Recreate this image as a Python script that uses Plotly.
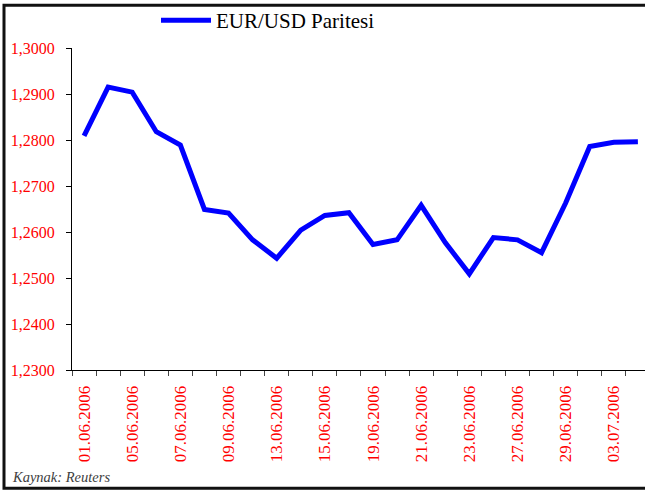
import plotly.graph_objects as go

dates = ["01.06.2006", "02.06.2006", "05.06.2006", "06.06.2006", "07.06.2006", "08.06.2006",
         "09.06.2006", "12.06.2006", "13.06.2006", "14.06.2006", "15.06.2006", "16.06.2006",
         "19.06.2006", "20.06.2006", "21.06.2006", "22.06.2006", "23.06.2006", "26.06.2006",
         "27.06.2006", "28.06.2006", "29.06.2006", "30.06.2006", "03.07.2006", "04.07.2006"]
eurusd = [1.2809, 1.2915, 1.2904, 1.2818, 1.2789, 1.2649, 1.2641, 1.2583, 1.2543, 1.2604,
          1.2636, 1.2642, 1.2573, 1.2583, 1.2658, 1.2577, 1.2509, 1.2588, 1.2583, 1.2555,
          1.2663, 1.2786, 1.2795, 1.2796]
series_name = "EUR/USD Paritesi"
source_text = "Kaynak: Reuters"

SERIF = "Liberation Serif, Times New Roman, serif"

W, H = 645, 493
L, R, T, B = 72, 0, 46, 123
PW, PH = W - L - R, H - T - B

def px_x(p):
    return (p - L) / PW

def px_y(p):
    return (H - B - p) / PH

xs = list(range(len(dates)))

fig = go.Figure()
fig.add_trace(go.Scatter(
    x=xs, y=eurusd, mode="lines", name=series_name,
    line=dict(color="#0000FF", width=5),
    showlegend=True,
))

fig.update_layout(
    width=W, height=H,
    margin=dict(l=L, r=R, t=T, b=B, pad=0),
    paper_bgcolor="white", plot_bgcolor="white",
    separators=",.",
    font=dict(family=SERIF),
    showlegend=True,
    legend=dict(
        x=px_x(156), y=px_y(18), xanchor="left", yanchor="middle",
        font=dict(family=SERIF, size=21, color="black"),
        bgcolor="rgba(0,0,0,0)", itemwidth=50,
    ),
    xaxis=dict(
        range=[-0.5, -0.5 + PW / 24.08],
        tickmode="array",
        tickvals=xs[::2],
        ticktext=dates[::2],
        tickangle=-90,
        ticks="",
        ticklabelstandoff=8,
        tickfont=dict(family=SERIF, size=17, color="#FF0000"),
        showline=True, linecolor="black", linewidth=1,
        showgrid=False, zeroline=False,
        minor=dict(tickmode="array", tickvals=[i - 0.5 for i in range(len(dates) + 1)],
                   ticks="outside", ticklen=5, tickcolor="#444444", tickwidth=1),
    ),
    yaxis=dict(
        range=[1.23, 1.30],
        tickmode="linear", tick0=1.23, dtick=0.01,
        tickformat=".4f",
        ticks="outside", ticklen=5, tickcolor="black",
        ticklabelstandoff=8,
        tickfont=dict(family=SERIF, size=16, color="#FF0000"),
        showline=True, linecolor="black", linewidth=1,
        showgrid=False, zeroline=False,
    ),
    shapes=[dict(
        type="rect", xref="paper", yref="paper",
        x0=px_x(4), x1=px_x(670), y0=px_y(489), y1=px_y(3),
        line=dict(color="#111111", width=3), fillcolor="rgba(0,0,0,0)",
        layer="above",
    )],
    annotations=[dict(
        text="<i>" + source_text + "</i>", xref="paper", yref="paper",
        x=px_x(10), y=px_y(478), xanchor="left", yanchor="middle",
        showarrow=False,
        font=dict(family=SERIF, size=14.5, color="#404040"),
    )],
)

fig.write_html("out.html", config={"displayModeBar": False},
               post_script="document.body.style.margin='0';document.body.style.overflow='hidden';")
